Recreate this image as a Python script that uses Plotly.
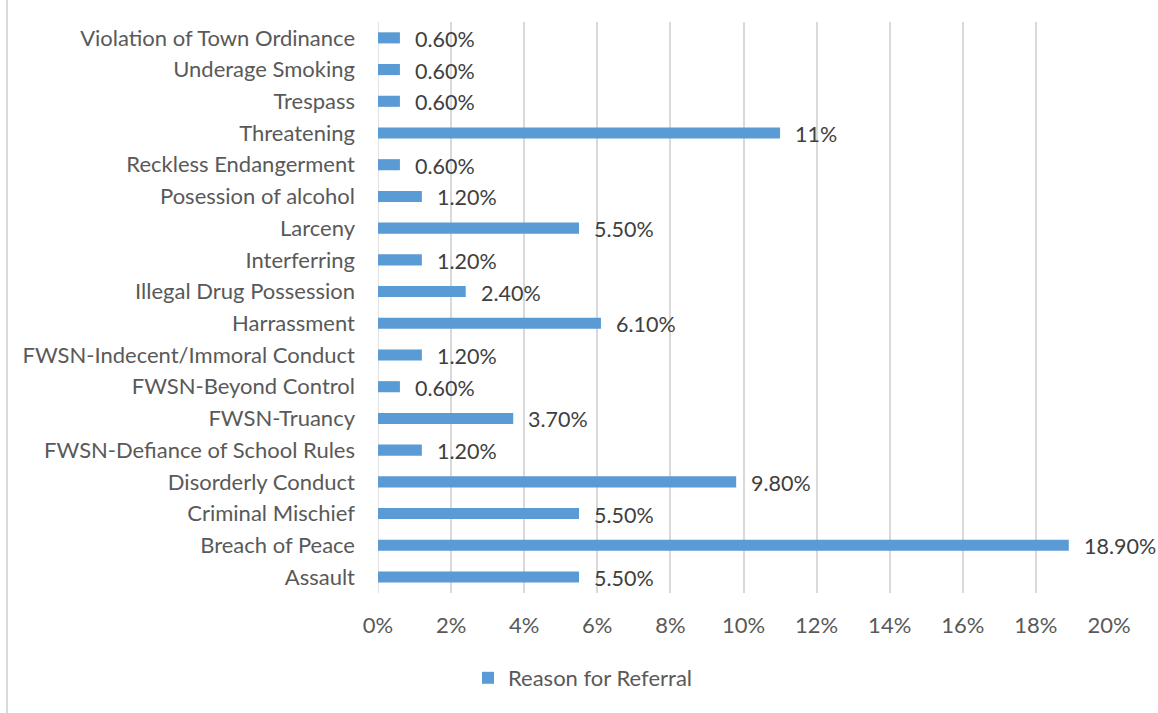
import plotly.graph_objects as go

# Referral reasons, listed bottom to top as they appear on the axis
categories = [
    "Assault",
    "Breach of Peace",
    "Criminal Mischief",
    "Disorderly Conduct",
    "FWSN-Defiance of School Rules",
    "FWSN-Truancy",
    "FWSN-Beyond Control",
    "FWSN-Indecent/Immoral Conduct",
    "Harrassment",
    "Illegal Drug Possession",
    "Interferring",
    "Larceny",
    "Posession of alcohol",
    "Reckless Endangerment",
    "Threatening",
    "Trespass",
    "Underage Smoking",
    "Violation of Town Ordinance",
]
percent = [5.5, 18.9, 5.5, 9.8, 1.2, 3.7, 0.6, 1.2, 6.1, 2.4, 1.2, 5.5, 1.2, 0.6, 11, 0.6, 0.6, 0.6]
x_ticks = list(range(0, 21, 2))
x_tick_labels = [f"{t}%" for t in x_ticks]
series_name = "Reason for Referral"


def fmt(v):
    return f"{int(v)}%" if float(v).is_integer() else f"{v:.2f}%"


BAR = "#5B9BD5"
GRID = "#D9D9D9"
TXT = "#595959"
FONT = "Lato"
FS = 22
W, H = 1158, 713
ML, MR, MT, MB = 378, 49, 22, 120
plot_w = W - ML - MR
plot_h = H - MT - MB

fig = go.Figure()
fig.add_trace(go.Bar(
    x=percent,
    y=categories,
    orientation="h",
    width=0.35,
    marker=dict(color=BAR, line=dict(width=0)),
    name=series_name,
    showlegend=True,
    hoverinfo="x+y",
))

# value labels to the right of each bar
for cat, v in zip(categories, percent):
    fig.add_annotation(
        x=v, y=cat, xref="x", yref="y",
        text=fmt(v), showarrow=False,
        xanchor="left", yanchor="middle",
        xshift=13, yshift=-1,
        font=dict(family=FONT, size=FS - 0.5, color="#404040"),
    )

# light frame edge at the left of the chart area
fig.add_shape(
    type="line", xref="paper", yref="paper",
    x0=(7 - ML) / plot_w, x1=(7 - ML) / plot_w,
    y0=-(MB + 5) / plot_h, y1=(plot_h + MT + 5) / plot_h,
    line=dict(color=GRID, width=2),
)

fig.update_layout(
    width=W, height=H,
    margin=dict(l=ML, r=MR, t=MT, b=MB, pad=0),
    paper_bgcolor="white",
    plot_bgcolor="white",
    font=dict(family=FONT, size=FS, color=TXT),
    bargap=0.65,
    xaxis=dict(
        range=[0, 20],
        tickvals=x_ticks,
        ticktext=x_tick_labels,
        showgrid=True, gridcolor=GRID, gridwidth=1.5,
        zeroline=False, showline=False,
        ticks="", ticklabelstandoff=17,
        tickfont=dict(family=FONT, size=FS, color=TXT),
        fixedrange=True,
    ),
    yaxis=dict(
        type="category",
        categoryorder="array", categoryarray=categories,
        showgrid=False, zeroline=False,
        showline=False,
        ticks="", ticklabelstandoff=22,
        tickfont=dict(family=FONT, size=FS, color=TXT),
        fixedrange=True,
    ),
    legend=dict(
        orientation="h",
        x=(468 - ML) / plot_w, xanchor="left",
        y=-(678 - (H - MB)) / plot_h, yanchor="middle",
        font=dict(family=FONT, size=FS, color=TXT),
        bgcolor="rgba(0,0,0,0)",
    ),
)

# 0% line is drawn as a grid line in the same grey
fig.add_vline(x=0, line=dict(color=GRID, width=1.5), layer="below")

fig.write_html("out.html")
